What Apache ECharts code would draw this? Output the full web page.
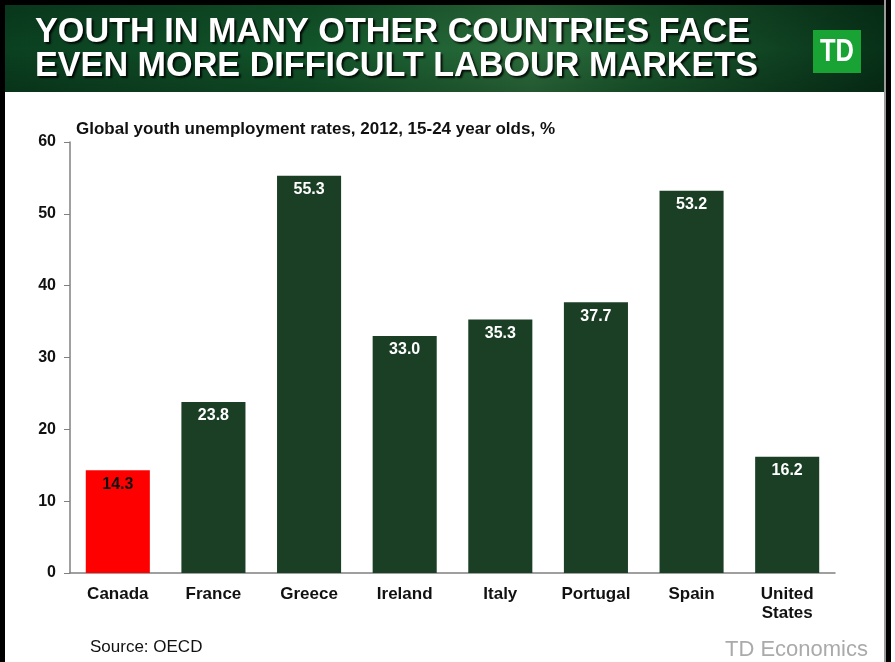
<!DOCTYPE html>
<html>
<head>
<meta charset="utf-8">
<script src="https://cdn.jsdelivr.net/npm/echarts@6/dist/echarts.min.js"></script>
<style>html,body{margin:0;padding:0;background:#fff}#c{width:895px;height:662px}</style>
</head>
<body>
<div id="c"></div>
<script>
var categories = ['Canada', 'France', 'Greece', 'Ireland', 'Italy', 'Portugal', 'Spain', 'United\nStates'];
var values = [14.3, 23.8, 55.3, 33.0, 35.3, 37.7, 53.2, 16.2];
var highlight = 'Canada';
var yTicks = [0, 10, 20, 30, 40, 50, 60];
var titleLines = ['YOUTH IN MANY OTHER COUNTRIES FACE', 'EVEN MORE DIFFICULT LABOUR MARKETS'];
var subtitle = 'Global youth unemployment rates, 2012, 15-24 year olds, %';
var source = 'Source: OECD';
var brand = 'TD Economics';

var chart = echarts.init(document.getElementById('c'), null, {renderer: 'canvas'});
var font = 'Arial, "Liberation Sans", sans-serif';
var titleFont = 'bold 35px "Liberation Sans", Arial, sans-serif';

var ctx = document.createElement('canvas').getContext('2d');
function fitScale(text, f, target) {
  ctx.font = f;
  return target / ctx.measureText(text).width;
}
var s1 = fitScale(titleLines[0], titleFont, 715);
var s2 = fitScale(titleLines[1], titleFont, 723);
var sTD = fitScale('TD', 'bold 32px "Liberation Sans", Arial, sans-serif', 34);

var data = values.map(function (v, i) {
  var isHi = categories[i] === highlight;
  return {
    value: v,
    itemStyle: {color: isHi ? '#ff0000' : '#1b3f25'},
    label: {color: isHi ? '#111' : '#fff'}
  };
});

var shadow = {textShadowColor: 'rgba(0,0,0,0.85)', textShadowOffsetX: 2, textShadowOffsetY: 2, textShadowBlur: 2};

chart.setOption({
  backgroundColor: '#fff',
  animation: false,
  grid: {left: 70, right: 60, top: 142, bottom: 89},
  xAxis: {
    type: 'category',
    data: categories,
    axisLine: {lineStyle: {color: '#808080', width: 1.5}},
    axisTick: {show: false},
    axisLabel: {
      color: '#111', fontFamily: font, fontWeight: 'bold', fontSize: 17,
      margin: 12, lineHeight: 19, interval: 0
    }
  },
  yAxis: {
    type: 'value',
    min: yTicks[0], max: yTicks[yTicks.length - 1], interval: 10,
    splitLine: {show: false},
    axisLine: {show: true, lineStyle: {color: '#808080', width: 1.5}},
    axisTick: {show: true, length: 6, lineStyle: {color: '#808080'}},
    axisLabel: {color: '#111', fontFamily: font, fontWeight: 'bold', fontSize: 16, margin: 14}
  },
  series: [{
    type: 'bar',
    data: data,
    barWidth: '67%',
    label: {
      show: true, position: 'insideTop', distance: 6,
      fontFamily: font, fontWeight: 'bold', fontSize: 16,
      formatter: function (p) { return p.value.toFixed(1); }
    }
  }],
  graphic: [
    {type: 'rect', shape: {x: 0, y: 0, width: 5, height: 662}, style: {fill: '#000'}, silent: true},
    {type: 'rect', shape: {x: 0, y: 0, width: 891, height: 5}, style: {fill: '#000'}, silent: true},
    {type: 'rect', shape: {x: 884, y: 0, width: 2, height: 662}, style: {fill: '#9a9a9a'}, silent: true},
    {type: 'rect', shape: {x: 886, y: 0, width: 5, height: 662}, style: {fill: '#000'}, silent: true},
    {type: 'rect', shape: {x: 5, y: 5, width: 879, height: 87}, silent: true,
      style: {fill: new echarts.graphic.LinearGradient(0, 0, 1, 0, [
        {offset: 0, color: '#0a4020'},
        {offset: 0.35, color: '#12552a'},
        {offset: 0.6, color: '#2c6e3c'},
        {offset: 0.72, color: '#1a5a2e'},
        {offset: 1, color: '#073118'}
      ])}},
    {type: 'rect', shape: {x: 5, y: 5, width: 879, height: 87}, silent: true,
      style: {fill: new echarts.graphic.LinearGradient(0, 0, 0, 1, [
        {offset: 0, color: 'rgba(0,0,0,0.15)'},
        {offset: 0.5, color: 'rgba(0,0,0,0)'},
        {offset: 1, color: 'rgba(0,0,0,0.2)'}
      ])}},
    {type: 'text', x: 35, y: 32, scaleX: s1, silent: true,
      style: Object.assign({text: titleLines[0], fill: '#fff', font: titleFont, verticalAlign: 'middle'}, shadow)},
    {type: 'text', x: 35, y: 66, scaleX: s2, silent: true,
      style: Object.assign({text: titleLines[1], fill: '#fff', font: titleFont, verticalAlign: 'middle'}, shadow)},
    {type: 'rect', shape: {x: 813, y: 30, width: 48, height: 43}, style: {fill: '#1aa335'}, silent: true},
    {type: 'text', x: 837, y: 52, scaleX: sTD, silent: true,
      style: {text: 'TD', fill: '#fff', font: 'bold 32px "Liberation Sans", Arial, sans-serif', align: 'center', verticalAlign: 'middle'}},
    {type: 'text', x: 76, y: 129, silent: true,
      style: {text: subtitle, fill: '#111', font: 'bold 17px ' + font, verticalAlign: 'middle'}},
    {type: 'text', x: 90, y: 647, silent: true,
      style: {text: source, fill: '#111', font: '17px ' + font, verticalAlign: 'middle'}},
    {type: 'text', x: 868, y: 650, silent: true,
      style: {text: brand, fill: '#aaaaaa', font: '22px ' + font, align: 'right', verticalAlign: 'middle'}}
  ]
});
</script>
</body>
</html>
